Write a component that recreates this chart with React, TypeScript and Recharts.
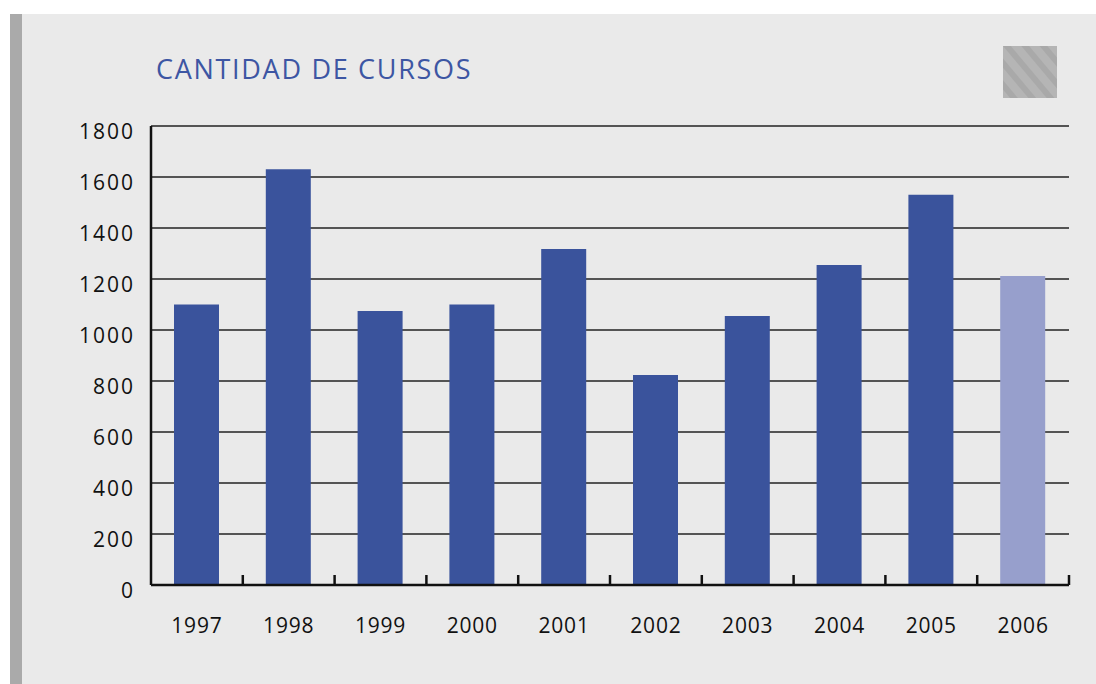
import React from 'react';
import { BarChart, Bar, XAxis, YAxis, CartesianGrid, Cell } from 'recharts';

// Values
const years = ['1997', '1998', '1999', '2000', '2001', '2002', '2003', '2004', '2005', '2006'];
const cursos = [1100, 1630, 1075, 1100, 1318, 824, 1055, 1255, 1530, 1212];
const yTicks = [0, 200, 400, 600, 800, 1000, 1200, 1400, 1600, 1800];

const BAR_COLOR = '#3a539c';
const LAST_COLOR = '#979fcc';
const FONT = '"Open Sans", sans-serif';

const data = years.map((year, i) => ({ year, value: cursos[i] }));

// x label plus a short upward tick on the right edge of each category band
const YearTick = (props: any) => {
  const { x, y, payload } = props;
  const half = payload && payload.offset ? payload.offset : 45.9;
  return (
    <g>
      <line x1={x + half} x2={x + half} y1={y} y2={y - 10} stroke="#111" strokeWidth={2.5} />
      <text
        x={x}
        y={y + 33}
        dy="0.71em"
        textAnchor="middle"
        fill="#111"
        fontSize={21}
        fontFamily={FONT}
        letterSpacing={0.8}
      >
        {payload.value}
      </text>
    </g>
  );
};

const App: React.FC = () => {
  return (
    <div style={{ position: 'absolute', left: 0, top: 0, width: 1096, height: 684, overflow: 'hidden', background: '#fff' }}>
      {/* panel background */}
      <div style={{ position: 'absolute', left: 10, top: 14, width: 1086, height: 670, background: '#eaeaea' }} />
      <div style={{ position: 'absolute', left: 10, top: 14, width: 12, height: 670, background: '#aaaaaa' }} />

      <div
        style={{
          position: 'absolute',
          left: 156,
          top: 51,
          fontFamily: FONT,
          fontSize: 27,
          fontWeight: 500,
          letterSpacing: 1.7,
          color: '#3d56a3',
          lineHeight: '36px',
          whiteSpace: 'nowrap',
        }}
      >
        CANTIDAD DE CURSOS
      </div>

      {/* hatched legend square */}
      <svg style={{ position: 'absolute', left: 1003, top: 46 }} width={54} height={52}>
        <defs>
          <pattern id="hatch" width="14" height="14" patternUnits="userSpaceOnUse" patternTransform="rotate(-40)">
            <rect width="14" height="14" fill="#b5b5b5" />
            <rect width="6" height="14" fill="#a9a9a9" />
          </pattern>
        </defs>
        <rect width={54} height={52} fill="url(#hatch)" />
      </svg>

      <div style={{ position: 'absolute', left: 0, top: 0 }}>
        <BarChart
          width={1096}
          height={684}
          data={data}
          margin={{ top: 126, right: 27, bottom: 39, left: 60 }}
          barSize={45}
        >
          <CartesianGrid vertical={false} stroke="#222" strokeWidth={1.5} />
          <XAxis
            dataKey="year"
            height={60}
            interval={0}
            axisLine={{ stroke: '#111', strokeWidth: 2.5 }}
            tickLine={false}
            tickSize={0}
            tickMargin={0}
            tick={<YearTick />}
          />
          <YAxis
            width={91}
            domain={[0, 1800]}
            ticks={yTicks}
            interval={0}
            axisLine={{ stroke: '#111', strokeWidth: 2.5 }}
            tickLine={false}
            tickSize={0}
            tickMargin={16}
            tick={{ fill: '#111', fontSize: 21, fontFamily: FONT, letterSpacing: 2, dy: 6 }}
          />
          <Bar dataKey="value" isAnimationActive={false}>
            {data.map((d, i) => (
              <Cell key={d.year} fill={i === data.length - 1 ? LAST_COLOR : BAR_COLOR} />
            ))}
          </Bar>
        </BarChart>
      </div>
    </div>
  );
};

export default App;
